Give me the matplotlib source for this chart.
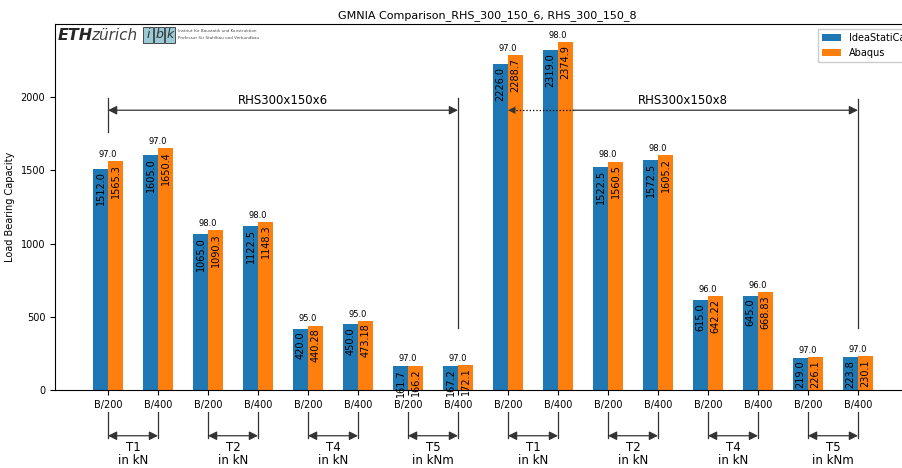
import numpy as np
import matplotlib
matplotlib.use("Agg")
import matplotlib.pyplot as plt
from matplotlib.patches import Rectangle

# DATA
tick_labels = ["B/200", "B/400"] * 8
idea_vals = [1512.0, 1605.0, 1065.0, 1122.5, 420.0, 450.0, 161.7, 167.2,
             2226.0, 2319.0, 1522.5, 1572.5, 615.0, 645.0, 219.0, 223.8]
abaqus_vals = [1565.3, 1650.4, 1090.3, 1148.3, 440.28, 473.18, 166.2, 172.1,
               2288.7, 2374.9, 1560.5, 1605.2, 642.22, 668.83, 226.1, 230.1]
abaqus_txt = ["1565.3", "1650.4", "1090.3", "1148.3", "440.28", "473.18", "166.2", "172.1",
              "2288.7", "2374.9", "1560.5", "1605.2", "642.22", "668.83", "226.1", "230.1"]
ratio_vals = [97.0, 97.0, 98.0, 98.0, 95.0, 95.0, 97.0, 97.0,
              97.0, 98.0, 98.0, 98.0, 96.0, 96.0, 97.0, 97.0]
group_labels = ["T1\nin kN", "T2\nin kN", "T4\nin kN", "T5\nin kNm"] * 2
section_labels = ["RHS300x150x6", "RHS300x150x8"]

blue = "#1f77b4"
orange = "#ff7f0e"
gray = "0.2"

fig = plt.figure(figsize=(9.02, 4.68), dpi=100)
ax = fig.add_axes([55 / 902, 1 - 390 / 468, (920 - 55) / 902, 366 / 468])

x = np.arange(len(idea_vals))
w = 0.3
ax.bar(x - w / 2, idea_vals, w, color=blue, label="IdeaStatiCa", zorder=2)
ax.bar(x + w / 2, abaqus_vals, w, color=orange, label="Abaqus", zorder=2)

# value labels inside bars
for i in range(len(x)):
    ax.text(x[i] - w / 2, idea_vals[i] - 20, "%.1f" % idea_vals[i], rotation=90,
            ha="center", va="top", fontsize=7, zorder=3)
    ax.text(x[i] + w / 2, abaqus_vals[i] - 20, abaqus_txt[i], rotation=90,
            ha="center", va="top", fontsize=7, zorder=3)
    top = max(idea_vals[i], abaqus_vals[i])
    ax.text(x[i], top + 15, "%.1f" % ratio_vals[i], ha="center", va="bottom",
            fontsize=6)

ax.set_xlim(-1.06, (920 - 108) / 50)
ax.set_ylim(0, 2500)
ax.set_xticks(x)
ax.set_xticklabels(tick_labels)
ax.set_yticks([0, 500, 1000, 1500, 2000])
ax.tick_params(labelsize=7)
ax.set_ylabel("Load Bearing Capacity", fontsize=7)
ax.set_title("GMNIA Comparison_RHS_300_150_6, RHS_300_150_8", fontsize=8, pad=4)

# section arrows on top
ya = 1911
ap = dict(arrowstyle="<|-|>", color=gray, lw=0.9, mutation_scale=13,
          shrinkA=0, shrinkB=0)
ax.plot([0, 0], [1763, 1995], color=gray, lw=0.9)
ax.plot([7, 7], [423, 1995], color=gray, lw=0.9)
ax.plot([15, 15], [423, 1990], color=gray, lw=0.9)
ax.annotate("", xy=(0, ya), xytext=(7, ya), arrowprops=ap, zorder=4)
ax.text(3.5, ya + 20, section_labels[0], ha="center", va="bottom", fontsize=8.5)

ax.annotate("", xy=(15, ya), xytext=(9.3, ya),
            arrowprops=dict(arrowstyle="-|>", color=gray, lw=0.9,
                            mutation_scale=13, shrinkA=0, shrinkB=0), zorder=4)
ax.plot([8.15, 9.3], [ya, ya], color="black", lw=0.9, ls=":", zorder=4)
ax.annotate("", xy=(8.0, ya), xytext=(8.2, ya),
            arrowprops=dict(arrowstyle="-|>", color=gray, lw=0.1,
                            mutation_scale=13, shrinkA=0, shrinkB=0), zorder=4)
ax.text(11.5, ya + 20, section_labels[1], ha="center", va="bottom", fontsize=8.5)

# group arrows below axis
trans = ax.get_xaxis_transform()
for g in range(8):
    a, b = 2 * g, 2 * g + 1
    for xx in (a, b):
        ax.plot([xx, xx], [-0.060, -0.131], color=gray, lw=0.9,
                transform=trans, clip_on=False)
    ax.annotate("", xy=(a, -0.125), xytext=(b, -0.125), xycoords=trans,
                textcoords=trans, arrowprops=ap, annotation_clip=False)
    ax.text((a + b) / 2, -0.139, group_labels[g], transform=trans,
            ha="center", va="top", fontsize=8.5, linespacing=1.0)

ax.legend(loc="upper right", bbox_to_anchor=(1 - 6 / 865, 1), fontsize=7,
          fancybox=False, framealpha=1, edgecolor="0.8", handlelength=2.0)

# logo
fig.text(58 / 902, 1 - 35 / 468, "ETH", fontsize=11.5, fontweight="heavy",
         fontstyle="italic", va="center", color="0.15")
fig.text(91 / 902, 1 - 35 / 468, "zürich", fontsize=11, fontstyle="italic",
         va="center", color="0.25")
for k, ch in enumerate("ibk"):
    fig.patches.append(Rectangle(((143 + k * 11) / 902, 1 - 43 / 468), 10 / 902,
                                 16 / 468, transform=fig.transFigure,
                                 facecolor="#9cc9d6", edgecolor="0.2", lw=0.6))
    fig.text((148 + k * 11) / 902, 1 - 35 / 468, ch, fontsize=9, fontstyle="italic",
             ha="center", va="center", color="0.2")
fig.text(178 / 902, 1 - 31 / 468, "Institut für Baustatik und Konstruktion",
         fontsize=3, va="center", color="0.3")
fig.text(178 / 902, 1 - 38 / 468, "Professur für Stahlbau und Verbundbau",
         fontsize=3, va="center", color="0.3")

fig.savefig("out.png", dpi=100)
